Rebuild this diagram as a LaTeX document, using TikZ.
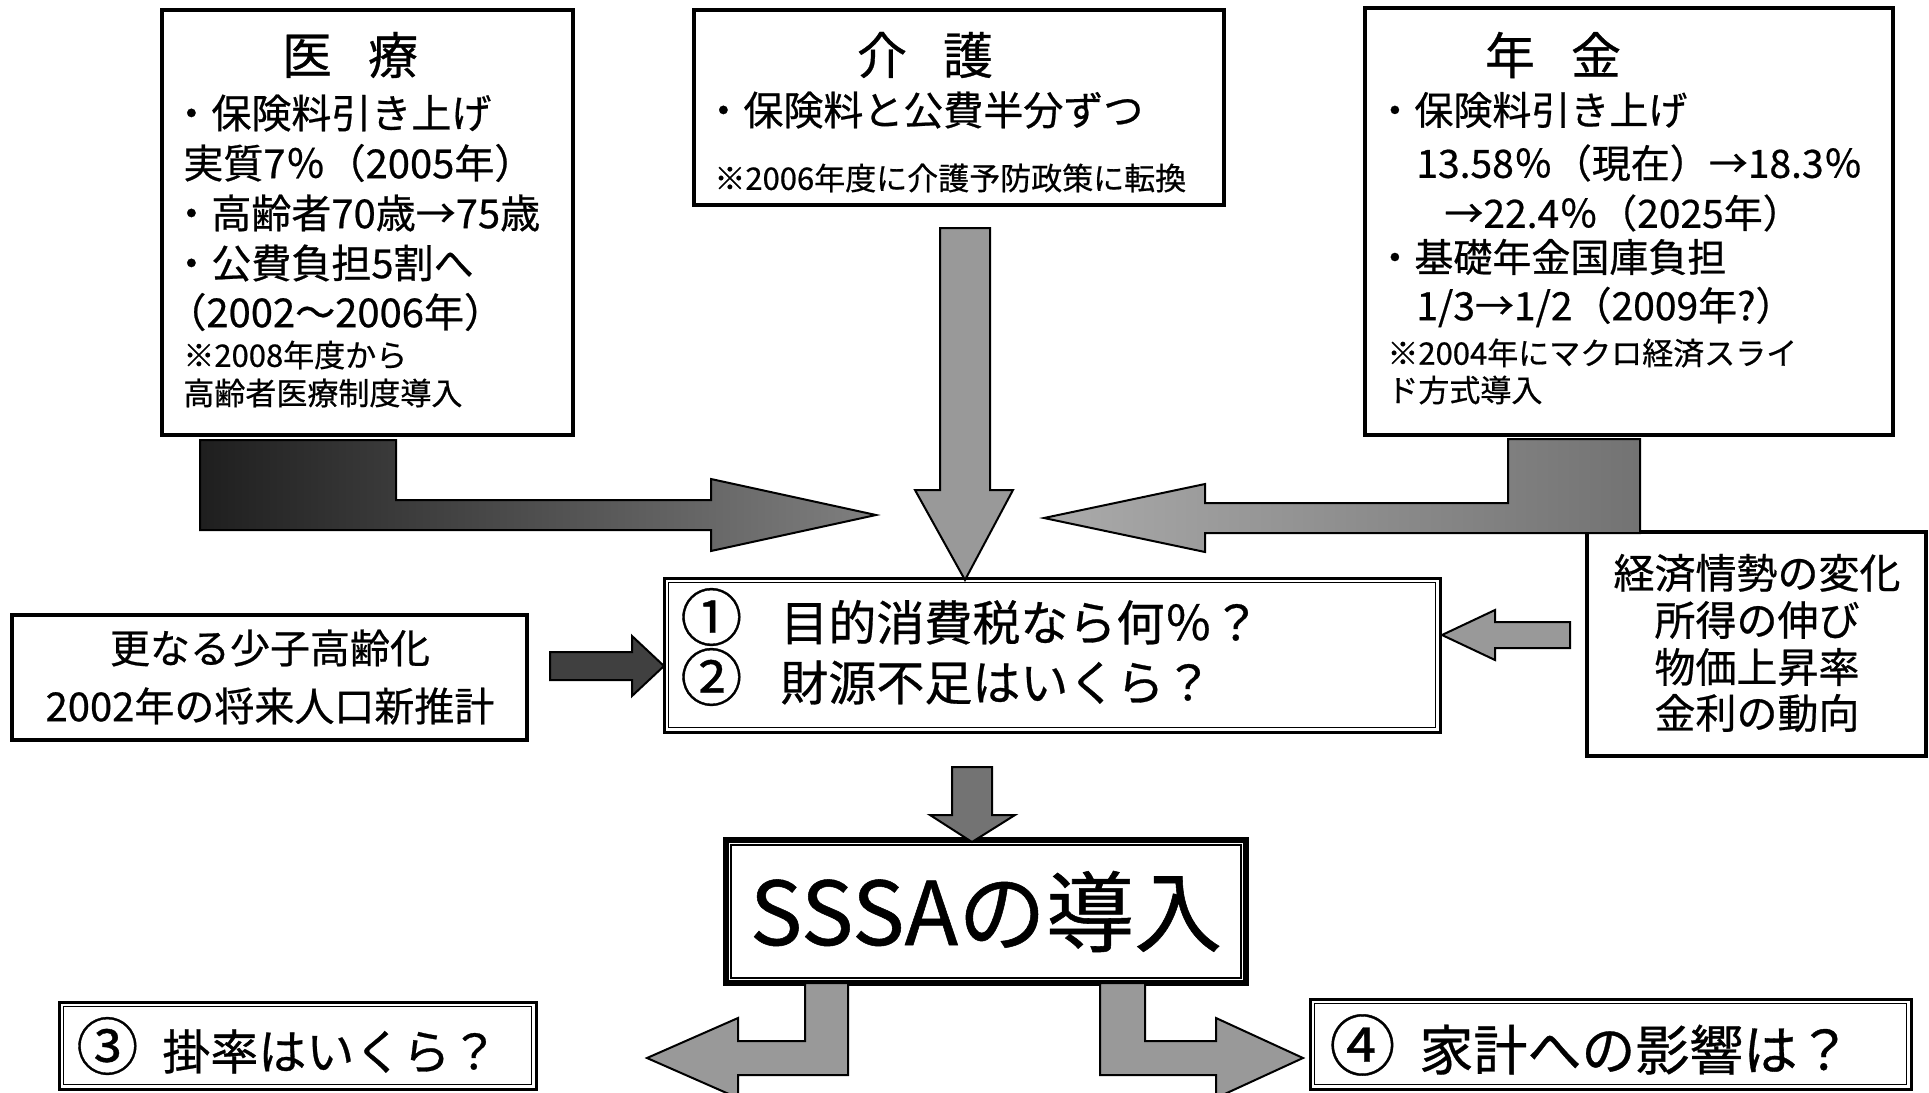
\documentclass[tikz,border=0pt]{standalone}
\usepackage{fontspec}
\setmainfont{Noto Sans CJK JP}[FakeBold=0.6]
\usetikzlibrary{fit}
\newcommand{\myfs}[1]{\fontsize{#1pt}{#1pt}\selectfont}
\tikzset{
  box/.style={draw, line width=1.75pt, inner sep=0pt},
  dblouter/.style={draw, line width=1.5pt, inner sep=0pt},
  tx/.style={inner sep=0pt, anchor=west},
  tc/.style={inner sep=0pt},
  arr/.style={draw=black, line width=1pt, line join=miter},
}
\begin{document}
\begin{tikzpicture}[x=0.5pt,y=-0.5pt]
\fill[white] (0,0) rectangle (1929,1093);
\useasboundingbox (0,0) rectangle (1929,1093);
\begin{scope}
\clip (0,0) rectangle (1929,1093);

% ---------- top boxes ----------
\node[box, fit={(162,10) (573,435)}] (iryo) {};
\node[box, fit={(694,10) (1224,205)}] (kaigo) {};
\node[box, fit={(1365,8) (1893,435)}] (nenkin) {};

\node[tc, font=\myfs{25}] (iryoT) at (350,55) {医\hspace{18pt}療};
\node[tx, font=\myfs{20}] (i1) at (171,113) {・保険料引き上げ};
\node[tx, font=\myfs{20}] (i2) at (183,163) {実質7％（2005年）};
\node[tx, font=\myfs{20}] (i3) at (171,213) {・高齢者70歳→75歳};
\node[tx, font=\myfs{20}] (i4) at (171,263) {・公費負担5割へ};
\node[tx, font=\myfs{20}] (i5) at (166,312) {（2002～2006年）};
\node[tx, font=\myfs{15.5}] (i6) at (183,355) {※2008年度から};
\node[tx, font=\myfs{15.5}] (i7) at (183,393) {高齢者医療制度導入};

\node[tc, font=\myfs{25}] (kaigoT) at (925,55) {介\hspace{18pt}護};
\node[tx, font=\myfs{20}] (k1) at (703,110) {・保険料と公費半分ずつ};
\node[tx, font=\myfs{15.5}] (k2) at (714,178) {※2006年度に介護予防政策に転換};

\node[tc, font=\myfs{25}] (nenkinT) at (1553,55) {年\hspace{18pt}金};
\node[tx, font=\myfs{19.5}] (n1) at (1375,110) {・保険料引き上げ};
\node[tx, font=\myfs{19.5}] (n2) at (1416,163) {13.58％（現在）→18.3％};
\node[tx, font=\myfs{19.5}] (n3) at (1444,213) {→22.4％（2025年）};
\node[tx, font=\myfs{19.5}] (n4) at (1375,257) {・基礎年金国庫負担};
\node[tx, font=\myfs{19.5}] (n5) at (1416,307) {1/3→1/2（2009年?）};
\node[tx, font=\myfs{15.5}] (n6) at (1387,353) {※2004年にマクロ経済スライ};
\node[tx, font=\myfs{15.5}] (n7) at (1387,390) {ド方式導入};

% ---------- middle row ----------
\node[dblouter, fit={(664,578) (1440,732)}] (q12) {};
\draw[line width=0.8pt] ([shift={(6,6)}]q12.north west) rectangle ([shift={(-6,-6)}]q12.south east);
\node[tx, font=\myfs{24}] (q1) at (680,617) {{\myfs{31}①}\hspace{19pt}目的消費税なら何％？};
\node[tx, font=\myfs{24}] (q2) at (680,677) {{\myfs{31}②}\hspace{19pt}財源不足はいくら？};

\node[box, fit={(12,615) (527,740)}] (shoshi) {};
\node[tc, font=\myfs{20}] (s1) at (270,648) {更なる少子高齢化};
\node[tc, font=\myfs{20}] (s2) at (270,706) {2002年の将来人口新推計};

\node[box, fit={(1587,532) (1926,756)}] (keizai) {};
\node[tc, font=\myfs{20.5}] (e1) at (1757,573) {経済情勢の変化};
\node[tc, font=\myfs{20.5}] (e2) at (1757,620) {所得の伸び};
\node[tc, font=\myfs{20.5}] (e3) at (1757,667) {物価上昇率};
\node[tc, font=\myfs{20.5}] (e4) at (1757,713) {金利の動向};

% ---------- SSSA ----------
\node[draw, line width=3pt, inner sep=0pt, fit={(726,840) (1246,983)}] (sssa) {};
\draw[line width=1pt] ([shift={(8,8)}]sssa.north west) rectangle ([shift={(-8,-8)}]sssa.south east);
\node[tc, font=\myfs{44}] (sssaT) at (sssa.center) {SSSAの導入};

% ---------- bottom boxes ----------
\node[dblouter, fit={(59,1002) (536,1089)}] (q3box) {};
\draw[line width=0.9pt] ([shift={(6,6)}]q3box.north west) rectangle ([shift={(-6,-6)}]q3box.south east);
\node[tx, font=\myfs{24}] (q3) at (76,1046) {{\myfs{31}③}\hspace{12pt}掛率はいくら？};

\node[dblouter, fit={(1310,999) (1911,1089)}] (q4box) {};
\draw[line width=0.9pt] ([shift={(6,6)}]q4box.north west) rectangle ([shift={(-6,-6)}]q4box.south east);
\node[tx, font=\myfs{27}] (q4) at (1329,1045) {{\myfs{33}④}\hspace{12pt}家計への影響は？};

% ---------- arrows ----------
% top-left elbow arrow (from 医療)
\path[arr, left color=black!88, right color=black!50]
  (200,440) -- (396,440) -- (396,500) -- (711,500) -- (711,479) -- (876,515)
  -- (711,551) -- (711,530) -- (200,530) -- cycle;
% top-right elbow arrow (from 年金)
\path[arr, left color=black!33, right color=black!55]
  (1640,439) -- (1640,533) -- (1205,533) -- (1205,552) -- (1044,518)
  -- (1205,484) -- (1205,503) -- (1508,503) -- (1508,439) -- cycle;
% centre down arrow (from 介護)
\path[arr, fill=black!40]
  (940,228) -- (990,228) -- (990,490) -- (1013,490) -- (965,580)
  -- (915,490) -- (940,490) -- cycle;
% small arrow from 少子高齢化 box
\path[arr, fill=black!75]
  (550,652) -- (632,652) -- (632,636) -- (664,666) -- (632,696)
  -- (632,680) -- (550,680) -- cycle;
% small arrow from 経済 box
\path[arr, fill=black!40]
  (1570,622) -- (1495,622) -- (1495,610) -- (1442,635) -- (1495,660)
  -- (1495,648) -- (1570,648) -- cycle;
% small down arrow to SSSA
\path[arr, fill=black!55]
  (952,767) -- (992,767) -- (992,815) -- (1015,815) -- (972,842)
  -- (930,815) -- (952,815) -- cycle;
% bottom-left elbow arrow
\path[arr, fill=black!40]
  (805,983) -- (848,983) -- (848,1075) -- (738,1075) -- (738,1098)
  -- (647,1058) -- (738,1018) -- (738,1041) -- (805,1041) -- cycle;
% bottom-right elbow arrow
\path[arr, fill=black!40]
  (1100,983) -- (1145,983) -- (1145,1041) -- (1216,1041) -- (1216,1018)
  -- (1303,1058) -- (1216,1098) -- (1216,1075) -- (1100,1075) -- cycle;
\end{scope}
\end{tikzpicture}
\end{document}
